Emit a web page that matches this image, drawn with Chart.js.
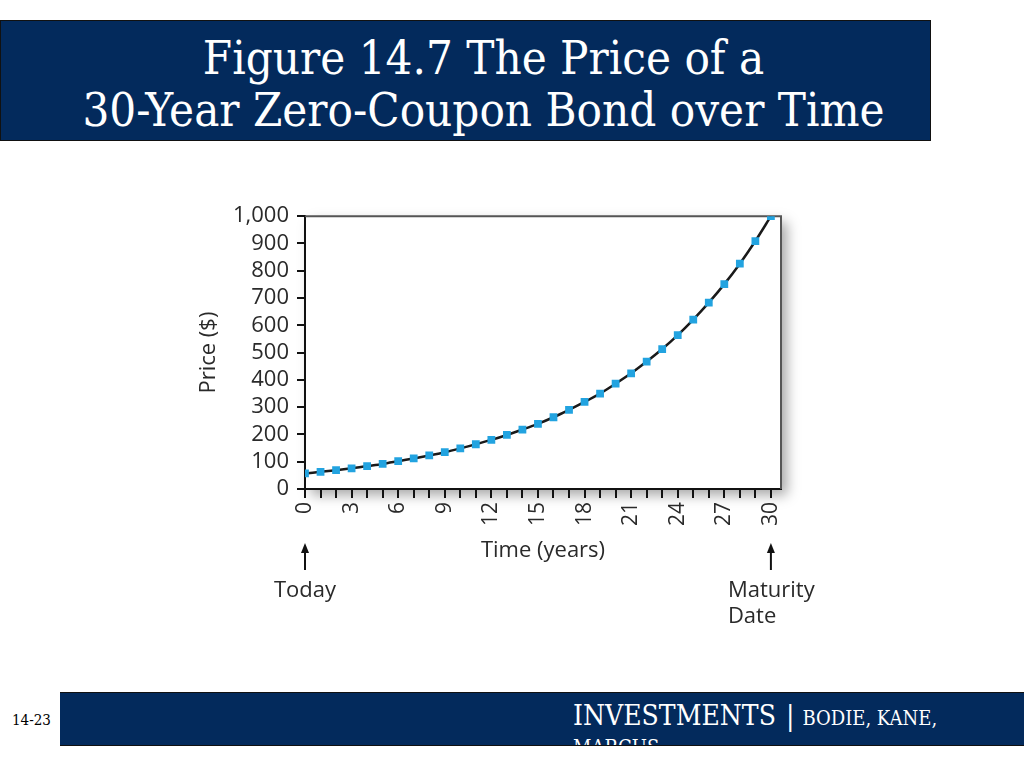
<!DOCTYPE html>
<html>
<head>
<meta charset="utf-8">
<script src="https://cdn.jsdelivr.net/npm/chart.js@4.4.1/dist/chart.umd.min.js"></script>
<style>
  body { margin: 0; background: #fff; width: 1024px; height: 768px; overflow: hidden; position: relative; }
  .title-box {
    position: absolute; left: 0; top: 20px; width: 929px; height: 119px;
    background: #032a5c; border: 1px solid #111;
    color: #fff; font-family: "DejaVu Serif Condensed", "DejaVu Serif", serif;
    font-size: 47px; line-height: 52px; text-align: center;
  }
  .title-box .lines { position: relative; left: 18px; top: 11px; }
  .footer {
    position: absolute; left: 60px; top: 692px; width: 964px; height: 52px;
    background: #032a5c; border-top: 1px solid #111; border-bottom: 1px solid #111; overflow: hidden;
    color: #fff; font-family: "DejaVu Serif Condensed", "DejaVu Serif", serif;
  }
  .footer .l1 { position: absolute; left: 513px; top: 7px; white-space: nowrap; line-height: 32px; }
  .footer .l2 { position: absolute; left: 513px; top: 42px; white-space: nowrap; font-size: 20px; line-height: 24px; }
  .footer .big { font-size: 28px; }
  .footer .bar { font-size: 28px; font-weight: 200; margin: 0 8px 0 10px; }
  .footer .small { font-size: 20px; }
  .page-num {
    position: absolute; left: 12px; top: 711px;
    font-family: "DejaVu Serif Condensed", "DejaVu Serif", serif; font-size: 15px; color: #000;
  }
  .chart-box { position: absolute; left: 150px; top: 195px; width: 720px; height: 450px; }
</style>
</head>
<body>
<div class="title-box">
  <div class="lines">
    <div>Figure 14.7 The Price of a</div>
    <div>30-Year Zero-Coupon Bond over Time</div>
  </div>
</div>

<div class="chart-box"><canvas id="bondChart" width="720" height="450"></canvas></div>

<div class="page-num">14-23</div>
<div class="footer">
  <div class="l1"><span class="big">INVESTMENTS</span><span class="bar">|</span><span class="small">BODIE, KANE,</span></div>
  <div class="l2">MARCUS</div>
</div>

<script>
// Données
const years  = [0, 1, 2, 3, 4, 5, 6, 7, 8, 9, 10, 11, 12, 13, 14, 15,
                16, 17, 18, 19, 20, 21, 22, 23, 24, 25, 26, 27, 28, 29, 30];
const prices = [57, 63, 69, 76, 84, 92, 102, 112, 123, 135, 149, 164, 180, 198, 218, 239,
                263, 290, 319, 350, 386, 424, 467, 513, 564, 621, 683, 751, 826, 909, 1000];
const xTickLabels = [0, 3, 6, 9, 12, 15, 18, 21, 24, 27, 30];
const yTickLabels = [0, 100, 200, 300, 400, 500, 600, 700, 800, 900, 1000];

const fontFamily = '"Open Sans", "Noto Sans", sans-serif';
const textColor  = '#2a2a2a';

// Ombre + cadre haut/droite + flèches "Today" / "Maturity Date"
const framePlugin = {
  id: 'frame',
  beforeDraw(chart) {
    const { ctx, chartArea: a } = chart;
    ctx.save();
    ctx.shadowColor = 'rgba(0,0,0,0.35)';
    ctx.shadowBlur = 12;
    ctx.shadowOffsetX = 6;
    ctx.shadowOffsetY = 6;
    ctx.fillStyle = '#fff';
    ctx.fillRect(a.left, a.top, a.right - a.left, a.bottom - a.top);
    ctx.restore();
  },
  beforeDatasetsDraw(chart) {
    const { ctx, chartArea: a } = chart;
    ctx.save();
    ctx.strokeStyle = '#555';
    ctx.lineWidth = 2;
    ctx.beginPath();
    ctx.moveTo(a.left, a.top);
    ctx.lineTo(a.right, a.top);
    ctx.lineTo(a.right, a.bottom);
    ctx.stroke();
    ctx.restore();
  },
  afterDraw(chart) {
    const { ctx } = chart;
    const x = chart.scales.x;
    const top = 543 - 195, bottom = 570 - 195;

    function arrow(px) {
      ctx.beginPath();
      ctx.moveTo(px, bottom);
      ctx.lineTo(px, top + 6);
      ctx.stroke();
      ctx.beginPath();
      ctx.moveTo(px, top);
      ctx.lineTo(px - 4, top + 10);
      ctx.lineTo(px + 4, top + 10);
      ctx.closePath();
      ctx.fill();
    }

    ctx.save();
    ctx.strokeStyle = '#111';
    ctx.fillStyle = '#111';
    ctx.lineWidth = 2;
    const p0 = x.getPixelForValue(years[0]);
    const p30 = x.getPixelForValue(years[years.length - 1]);
    arrow(p0);
    arrow(p30);

    ctx.fillStyle = textColor;
    ctx.font = '22px ' + fontFamily;
    ctx.textBaseline = 'middle';
    ctx.textAlign = 'center';
    ctx.fillText('Today', p0, 591 - 195);
    ctx.textAlign = 'left';
    ctx.fillText('Maturity', p30 - 43, 591 - 195);
    ctx.fillText('Date', p30 - 43, 617 - 195);
    ctx.restore();
  }
};

new Chart(document.getElementById('bondChart'), {
  type: 'line',
  data: {
    datasets: [{
      data: years.map((y, i) => ({ x: y, y: prices[i] })),
      borderColor: '#1a1a1a',
      borderWidth: 2.5,
      tension: 0.3,
      pointStyle: 'rect',
      pointRadius: 5.5,
      pointBackgroundColor: '#22a3e0',
      pointBorderWidth: 0
    }]
  },
  options: {
    responsive: false,
    animation: false,
    layout: { padding: { left: 42, top: 20, right: 89, bottom: 77 } },
    plugins: { legend: { display: false }, tooltip: { enabled: false } },
    scales: {
      x: {
        type: 'linear',
        min: 0,
        max: 30.65,
        afterFit: s => { s.height = 79; },
        border: { display: true, color: '#111', width: 2 },
        grid: { drawOnChartArea: false, drawTicks: true, tickLength: 9, color: '#111', lineWidth: 2 },
        ticks: {
          stepSize: 1,
          includeBounds: false,
          autoSkip: false,
          minRotation: 90,
          maxRotation: 90,
          padding: 4,
          color: textColor,
          font: { family: fontFamily, size: 21 },
          callback: v => xTickLabels.includes(v) ? String(v) : ''
        },
        title: { display: true, text: 'Time (years)', color: textColor, font: { family: fontFamily, size: 22 }, padding: { top: 4, bottom: 4 } }
      },
      y: {
        min: 0,
        max: 1000,
        afterFit: s => { s.width = 113; },
        border: { display: true, color: '#111', width: 2 },
        grid: { drawOnChartArea: false, drawTicks: true, tickLength: 8, color: '#111', lineWidth: 2 },
        ticks: {
          stepSize: 100,
          autoSkip: false,
          padding: 8,
          color: textColor,
          font: { family: fontFamily, size: 22 },
          callback: v => yTickLabels.includes(v) ? v.toLocaleString('en-US') : ''
        },
        title: { display: true, text: 'Price ($)', color: textColor, font: { family: fontFamily, size: 22 }, padding: { top: 4, bottom: 4 } }
      }
    }
  },
  plugins: [framePlugin]
});
</script>
</body>
</html>
